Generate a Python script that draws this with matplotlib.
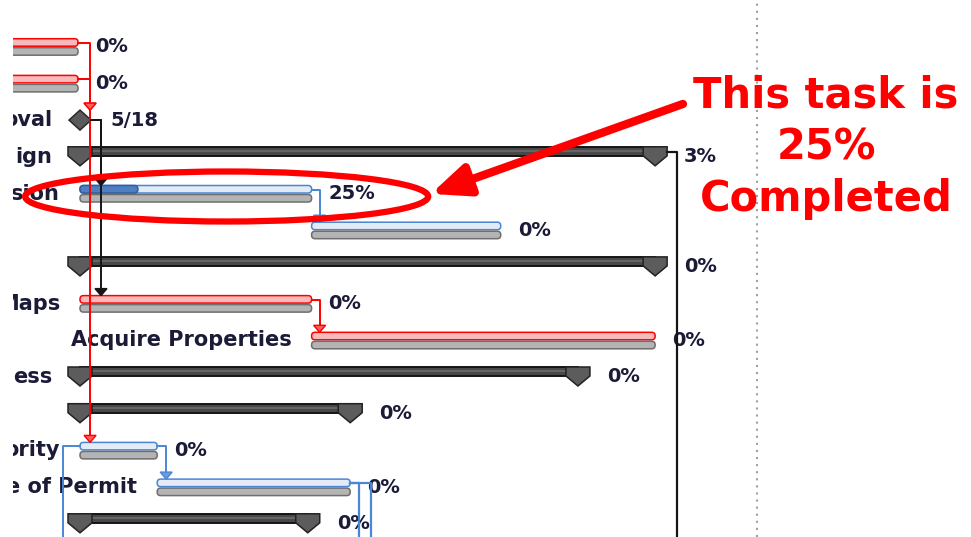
import matplotlib
matplotlib.use("Agg")
import matplotlib.pyplot as plt
from matplotlib.patches import FancyBboxPatch, Polygon, Ellipse

# gantt rows, top to bottom (row 1 .. 14), time in days
names = ["", "", "oval", "ign", "sion", "", "", "Maps", "Acquire Properties",
         "ess", "", "ority", "e of Permit", ""]
kinds = ["task", "task", "milestone", "summary", "task", "task", "summary",
         "task", "task", "summary", "summary", "task", "task", "summary"]
starts = [-4, -4, 0, 0, 0, 6, 0, 0, 6, 0, 0, 0, 2, 0]
finishes = [-0.05, -0.05, 0, 14.9, 6, 10.9, 14.9, 6, 14.9, 12.9, 7, 2, 7, 5.9]
complete = [0, 0, None, 3, 25, 0, 0, 0, 0, 0, 0, 0, 0, 0]
critical = [True, True, False, False, False, False, False, True, True,
            False, False, False, False, False]
milestone_date = "5/18"

# dependencies: (predecessor row, successor row, lane offset px)
links = [(1, 3, 12), (2, 3, 12), (2, 12, 12), (3, 5, 21), (3, 8, 21),
         (5, 6, 8), (8, 9, 8), (12, 13, 9)]
# successors below the visible rows
links_out = [(4, 22), (13, 9), (13, 21)]

callout = ["This task is", "25%", "Completed"]

rows = list(range(1, len(names) + 1))

DAY = 38.6   # px per day
ROW = 36.7   # px per row
px = 1 / DAY
py = 1 / ROW

RED = "#ff0000"
BLUE = "#4a86d4"
BLACK = "#151515"
TXT = "#1b1b38"

fig = plt.figure(figsize=(9.71, 5.37), dpi=100)
# chart pane starts just right of the table divider
ax = fig.add_axes([13 / 971, 0, 958 / 971, 1])
ax.set_xlim(-67 * px, 891 * px)
ax.set_ylim(527 * py, -10 * py)
ax.axis("off")


def rbar(x0, x1, top, h, fc, ec, z=3):
    p = FancyBboxPatch((x0, top), x1 - x0, h,
                       boxstyle=f"round,pad=0,rounding_size={3.5 * px}",
                       mutation_aspect=DAY / ROW, fc=fc, ec=ec, lw=1.1, zorder=z)
    ax.add_patch(p)


def cap(x, r):
    pts = [(x - 12 * px, r - 10 * py), (x + 12 * px, r - 10 * py),
           (x + 12 * px, r - 1 * py), (x, r + 9 * py), (x - 12 * px, r - 1 * py)]
    ax.add_patch(Polygon(pts, closed=True, fc="#5c5c5c", ec="#222222", lw=1.1, zorder=4))


def arrowhead(x, tip, color, fc):
    pts = [(x - 6 * px, tip - 7 * py), (x + 6 * px, tip - 7 * py), (x, tip)]
    ax.add_patch(Polygon(pts, closed=True, fc=fc, ec=color, lw=1, zorder=6))


def name_label(x, r, s):
    ax.text(x, r, s, ha="right", va="center", fontsize=15, fontweight="bold",
            color=TXT, zorder=2, clip_on=True)


def pct_label(x, r, s):
    ax.text(x, r, s, ha="left", va="center", fontsize=14, fontweight="bold",
            color=TXT, zorder=2)


# bars
for r, kind, s, f, pc, crit, name in zip(rows, kinds, starts, finishes, complete, critical, names):
    if kind == "task":
        ec = RED if crit else BLUE
        fc = "#f7b9b9" if crit else "#e3ebf6"
        rbar(s, f, r - 8 * py, 7.5 * py, fc, ec)
        if pc:
            rbar(s, s + (f - s) * pc / 100, r - 8 * py, 7.5 * py, "#4f7fc0", "#2f5f9f", z=3.5)
        rbar(s, f, r + 1 * py, 7.5 * py, "#b4b4b4", "#6e6e6e")
        pct_label(f + 17 * px, r, f"{pc}%")
        name_label(s - 20 * px, r, name)
    elif kind == "summary":
        ax.add_patch(FancyBboxPatch((s, r - 10 * py), f - s, 9 * py, boxstyle="square,pad=0",
                                    fc="#484848", ec=BLACK, lw=1.4, zorder=3))
        ax.plot([s, f], [r - 6 * py, r - 6 * py], color="#6c6c6c", lw=1.2, zorder=3.2)
        cap(s, r)
        cap(f, r)
        pct_label(f + 29 * px, r, f"{pc}%")
        name_label(s - 28 * px, r, name)
    else:
        pts = [(s - 11 * px, r), (s, r - 10 * py), (s + 11 * px, r), (s, r + 10 * py)]
        ax.add_patch(Polygon(pts, closed=True, fc="#5a5a5a", ec="#2a2a2a", lw=1.1, zorder=4))
        pct_label(s + 30 * px, r, milestone_date)
        name_label(s - 28 * px, r, name)

# finish-to-start links
for a, b, lane in links:
    ia, ib = a - 1, b - 1
    f = finishes[ia]
    if kinds[ia] == "milestone":
        x0, y0 = f + 11 * px, a
        col, fc = BLACK, BLACK
    else:
        x0, y0 = f, a - 4 * py
        col = RED if critical[ia] else BLUE
        fc = "#ff5a5a" if critical[ia] else "#6a9be0"
    xl = f + lane * px
    tip = b - (10 if kinds[ib] == "milestone" else 8) * py
    ax.plot([x0, xl, xl], [y0, y0, tip - 6 * py], color=col, lw=1.4, zorder=5)
    arrowhead(xl, tip, col, fc)

# links to rows further down
bottom = 540 * py
for a, lane in links_out:
    ia = a - 1
    f = finishes[ia]
    if kinds[ia] == "summary":
        x0, y0, col = f + 12 * px, a - 5 * py, BLACK
    else:
        x0, y0, col = f, a - 4 * py, BLUE
    xl = f + lane * px
    ax.plot([x0, xl, xl], [y0, y0, bottom], color=col, lw=1.6, zorder=5)

# start-to-start link from row 12
s12 = starts[11]
ax.plot([s12, s12 - 17 * px, s12 - 17 * px], [12 - 4 * py, 12 - 4 * py, bottom],
        color=BLUE, lw=1.4, zorder=5)

# timescale marker
ax.axvline(17.54, color="#a0a0a0", lw=1.5, dashes=(1, 2.4), zorder=1)

# callout on row 5
ax.add_patch(Ellipse((3.8, 5 + 3 * py), 403 * px, 50 * py, fill=False,
                     ec=RED, lw=4.5, zorder=8))
ax.annotate("", xy=(9.09, 5.01), xytext=(15.62, 2.56),
            arrowprops=dict(arrowstyle="-|>,head_length=0.75,head_width=0.32",
                            mutation_scale=30, lw=6, color=RED,
                            shrinkA=0, shrinkB=0), zorder=9)
for k, line in enumerate(callout):
    ax.text(19.33, 2.32 + k * 52 * py, line, ha="center", va="center",
            fontsize=30, fontweight="bold", color=RED, zorder=9)

fig.savefig("out.png", dpi=100)
